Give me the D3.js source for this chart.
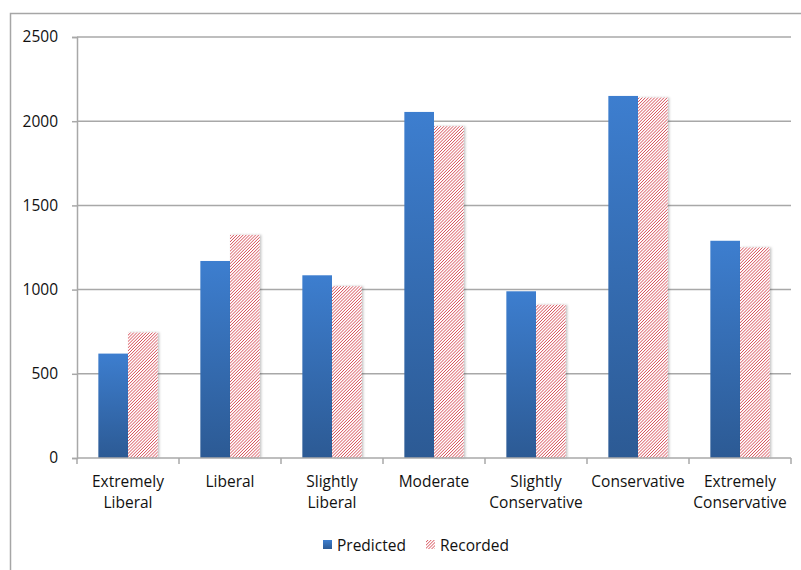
<!DOCTYPE html>
<html>
<head>
<meta charset="utf-8">
<script src="https://cdn.jsdelivr.net/npm/d3@7/dist/d3.min.js"></script>
<style>
  html, body { margin: 0; padding: 0; background: #fff; }
  svg { display: block; }
  text { font-family: "Open Sans", sans-serif; fill: #111; }
</style>
</head>
<body>
<svg id="chart" width="801" height="570"></svg>
<script>
// Ideology categories (each label may wrap onto two lines)
const categories = [
  ["Extremely", "Liberal"],
  ["Liberal"],
  ["Slightly", "Liberal"],
  ["Moderate"],
  ["Slightly", "Conservative"],
  ["Conservative"],
  ["Extremely", "Conservative"]
];
const predicted = [620, 1170, 1085, 2055, 990, 2150, 1290];
const recorded  = [745, 1325, 1020, 1970, 910, 2140, 1250];
const yTicks = [0, 500, 1000, 1500, 2000, 2500];
const seriesNames = ["Predicted", "Recorded"];

const svg = d3.select("#chart");
const keys = categories.map(c => c.join(" "));
const FONT = "'Open Sans', sans-serif";

const plot = { left: 77, right: 791, top: 37, bottom: 458 };

const defs = svg.append("defs");
const grad = defs.append("linearGradient")
  .attr("id", "blueFill").attr("x1", 0).attr("y1", 0).attr("x2", 0).attr("y2", 1);
grad.append("stop").attr("offset", "0%").attr("stop-color", "#3d7ecf");
grad.append("stop").attr("offset", "100%").attr("stop-color", "#2c5a94");

const hs = 2.2;
const hatch = defs.append("pattern")
  .attr("id", "hatch").attr("patternUnits", "userSpaceOnUse")
  .attr("width", hs).attr("height", hs)
  .attr("patternTransform", "rotate(45)");
hatch.append("rect").attr("width", hs).attr("height", hs).attr("fill", "#fff");
hatch.append("line").attr("x1", 0).attr("y1", 0).attr("x2", 0).attr("y2", hs)
  .attr("stroke", "#cc1f2b").attr("stroke-width", 1.15);

const shadow = defs.append("filter").attr("id", "shadow")
  .attr("x", "-20%").attr("y", "-5%").attr("width", "150%").attr("height", "115%");
shadow.append("feDropShadow").attr("dx", 1.5).attr("dy", 0).attr("stdDeviation", 1.2)
  .attr("flood-color", "#000").attr("flood-opacity", 0.25);

// outer frame
svg.append("rect").attr("x", 10.5).attr("y", 13.5).attr("width", 820).attr("height", 600)
  .attr("fill", "none").attr("stroke", "#a6a6a6").attr("stroke-width", 1.5);

const x = d3.scaleBand().domain(keys).range([plot.left, plot.right]).paddingInner(0).paddingOuter(0);
const xs = d3.scaleBand().domain(seriesNames).range([0, x.bandwidth()]).paddingOuter(0.72).paddingInner(0);
const y = d3.scaleLinear().domain([0, 2500]).range([plot.bottom, plot.top]);

// gridlines
svg.append("g").selectAll("line").data(yTicks.filter(t => t > 0)).join("line")
  .attr("x1", plot.left).attr("x2", plot.right)
  .attr("y1", d => y(d)).attr("y2", d => y(d))
  .attr("stroke", "#a8a8a8").attr("stroke-width", 1.5);

// y axis
const yAxis = d3.axisLeft(y).tickValues(yTicks).tickFormat(d3.format("d")).tickSize(5).tickPadding(14);
const gy = svg.append("g").attr("transform", `translate(${plot.left},0)`).call(yAxis);
gy.select(".domain").attr("stroke", "#a8a8a8").attr("stroke-width", 1.5);
gy.selectAll(".tick line").attr("stroke", "#a8a8a8").attr("stroke-width", 1.5);
gy.selectAll(".tick text").attr("font-size", 15.5).attr("font-family", FONT).attr("fill", "#111");

// bars
const groups = svg.append("g").selectAll("g").data(keys).join("g")
  .attr("transform", d => `translate(${x(d)},0)`);
groups.append("rect")
  .attr("x", xs("Predicted"))
  .attr("width", xs.bandwidth())
  .attr("y", (d, i) => y(predicted[i]))
  .attr("height", (d, i) => y(0) - y(predicted[i]))
  .attr("fill", "url(#blueFill)");
groups.append("rect")
  .attr("x", xs("Recorded"))
  .attr("width", xs.bandwidth())
  .attr("y", (d, i) => y(recorded[i]))
  .attr("height", (d, i) => y(0) - y(recorded[i]))
  .attr("fill", "url(#hatch)")
  .attr("filter", "url(#shadow)");

// x axis
const xAxisLine = svg.append("g");
xAxisLine.append("line").attr("x1", plot.left).attr("x2", plot.right)
  .attr("y1", plot.bottom).attr("y2", plot.bottom)
  .attr("stroke", "#a8a8a8").attr("stroke-width", 1.5);
const boundaries = keys.map(k => x(k)).concat([plot.right]);
xAxisLine.selectAll("line.tick").data(boundaries).join("line").attr("class", "tick")
  .attr("x1", d => d).attr("x2", d => d)
  .attr("y1", plot.bottom).attr("y2", plot.bottom + 6)
  .attr("stroke", "#a8a8a8").attr("stroke-width", 1.5);

const labels = svg.append("g").selectAll("text").data(categories).join("text")
  .attr("text-anchor", "middle")
  .attr("font-size", 15.5)
  .attr("x", (d, i) => x(keys[i]) + x.bandwidth() / 2)
  .attr("y", 487);
labels.selectAll("tspan").data(d => d).join("tspan")
  .attr("x", function() { return d3.select(this.parentNode).attr("x"); })
  .attr("dy", (d, i) => i === 0 ? 0 : 21)
  .text(d => d);

// legend
const legend = svg.append("g");
const legendItems = [
  { name: seriesNames[0], fill: "url(#blueFill)", x: 323 },
  { name: seriesNames[1], fill: "url(#hatch)", x: 426 }
];
legendItems.forEach(it => {
  legend.append("rect").attr("x", it.x).attr("y", 540).attr("width", 9).attr("height", 9).attr("fill", it.fill);
  legend.append("text").attr("x", it.x + 14).attr("y", 551).attr("font-size", 15.5).text(it.name);
});
</script>
</body>
</html>
